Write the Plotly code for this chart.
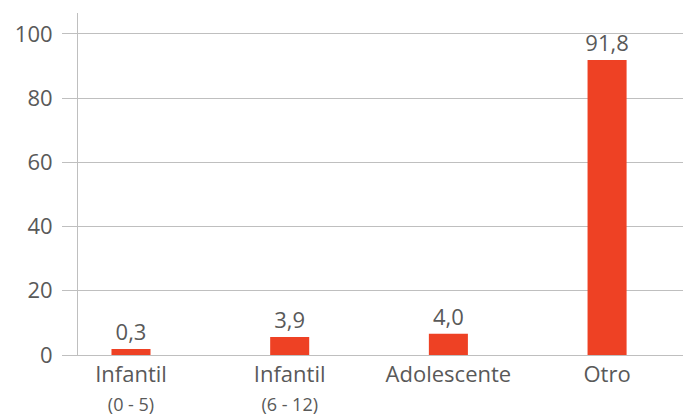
import plotly.graph_objects as go

# datos
categorias = ["Infantil<br><span style='font-size:18px'>(0 - 5)</span>",
              "Infantil<br><span style='font-size:18px'>(6 - 12)</span>",
              "Adolescente",
              "Otro"]
valores = [0.3, 3.9, 4.0, 91.8]
etiquetas = ["0,3", "3,9", "4,0", "91,8"]
# altura dibujada de cada barra
alturas = [1.9, 5.6, 6.6, 91.9]
ticks_y = [0, 20, 40, 60, 80, 100]

gris = "#595959"
fig = go.Figure()

fig.add_trace(
    go.Bar(
        x=list(range(len(categorias))),
        y=alturas,
        text=etiquetas,
        textposition="outside",
        constraintext="none",
        textfont=dict(size=22, color=gris, family="Open Sans"),
        marker=dict(color="#EE4124", line=dict(width=0)),
        width=0.246,
        cliponaxis=False,
        showlegend=False,
    )
)

# la pagina tiene ~8px de margen, se compensa aqui
fig.update_layout(
    width=683, height=406,
    margin=dict(l=70, r=3, t=5, b=59),
    paper_bgcolor="white",
    plot_bgcolor="white",
    font=dict(family="Open Sans", color=gris, size=22),
    xaxis=dict(
        range=[-0.334, 3.51],
        tickvals=list(range(len(categorias))),
        ticktext=categorias,
        showgrid=False,
        zeroline=False,
        showline=True,
        linecolor="#BFBFBF",
        linewidth=1,
        ticks="",
        automargin=False,
        tickfont=dict(size=22, color=gris),
    ),
    yaxis=dict(
        range=[0, 106.5],
        tickvals=ticks_y,
        showgrid=True,
        gridcolor="#BFBFBF",
        gridwidth=1,
        zeroline=False,
        showline=True,
        linecolor="#BFBFBF",
        linewidth=1,
        ticks="outside",
        ticklen=15,
        tickcolor="#BFBFBF",
        ticklabelstandoff=5,
        automargin=False,
        tickfont=dict(size=22, color=gris),
    ),
)

fig.write_html("out.html")
